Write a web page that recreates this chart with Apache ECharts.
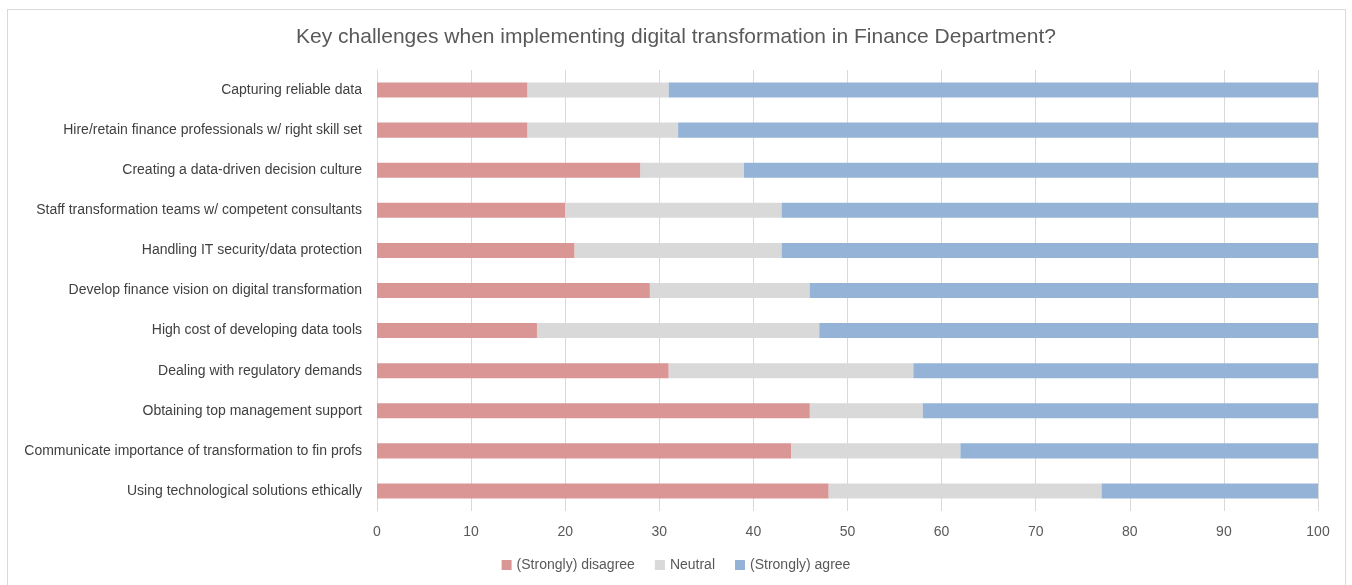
<!DOCTYPE html>
<html><head><meta charset="utf-8">
<script src="https://cdn.jsdelivr.net/npm/echarts@6/dist/echarts.min.js"></script>
<style>html,body{margin:0;padding:0;background:#fff}#c{width:1352px;height:585px}
#frame{position:absolute;left:7px;top:9px;width:1337px;height:590px;border:1px solid #d9d9d9;pointer-events:none}</style>
</head><body><div id="c"></div><div id="frame"></div>
<script>
const categories = [
  "Using technological solutions ethically",
  "Communicate importance of transformation to fin profs",
  "Obtaining top management support",
  "Dealing with regulatory demands",
  "High cost of developing data tools",
  "Develop finance vision on digital transformation",
  "Handling IT security/data protection",
  "Staff transformation teams w/ competent consultants",
  "Creating a data-driven decision culture",
  "Hire/retain finance professionals w/ right skill set",
  "Capturing reliable data"
];
const disagree = [48, 44, 46, 31, 17, 29, 21, 20, 28, 16, 16];
const neutral  = [29, 18, 12, 26, 30, 17, 22, 23, 11, 16, 15];
const agree    = [23, 38, 42, 43, 53, 54, 57, 57, 61, 68, 69];
const seriesNames = ["(Strongly) disagree", "Neutral", "(Strongly) agree"];

const font = "Liberation Sans";
const chart = echarts.init(document.getElementById('c'));
const mk = (name, data, color) => ({
  name, type: 'bar', stack: 'total', data, barWidth: '37.5%',
  itemStyle: {color}, emphasis: {disabled: true}
});
chart.setOption({
  animation: false,
  textStyle: {fontFamily: font},
  title: {text: "Key challenges when implementing digital transformation in Finance Department?",
    left: 'center', top: 22,
    textStyle: {fontFamily: font, fontSize: 21, fontWeight: 'normal', color: '#595959'}},
  legend: {bottom: 8, left: 'center', itemWidth: 10, itemHeight: 10, itemGap: 20,
    icon: 'rect', textStyle: {fontFamily: font, fontSize: 14, color: '#595959'}},
  grid: {left: 377, right: 34, top: 70, bottom: 74, containLabel: false},
  xAxis: {type: 'value', min: 0, max: 100, interval: 10,
    axisLine: {show: false}, axisTick: {show: false},
    splitLine: {lineStyle: {color: '#d9d9d9', width: 1}},
    axisLabel: {color: '#595959', fontSize: 14, margin: 14, fontFamily: font}},
  yAxis: {type: 'category', data: categories,
    axisLine: {show: true, lineStyle: {color: '#d9d9d9'}}, axisTick: {show: false},
    axisLabel: {color: '#404040', fontSize: 14, margin: 15, fontFamily: font}},
  series: [
    mk(seriesNames[0], disagree, '#d99694'),
    mk(seriesNames[1], neutral, '#d9d9d9'),
    mk(seriesNames[2], agree, '#95b3d7')
  ]
});
</script></body></html>
